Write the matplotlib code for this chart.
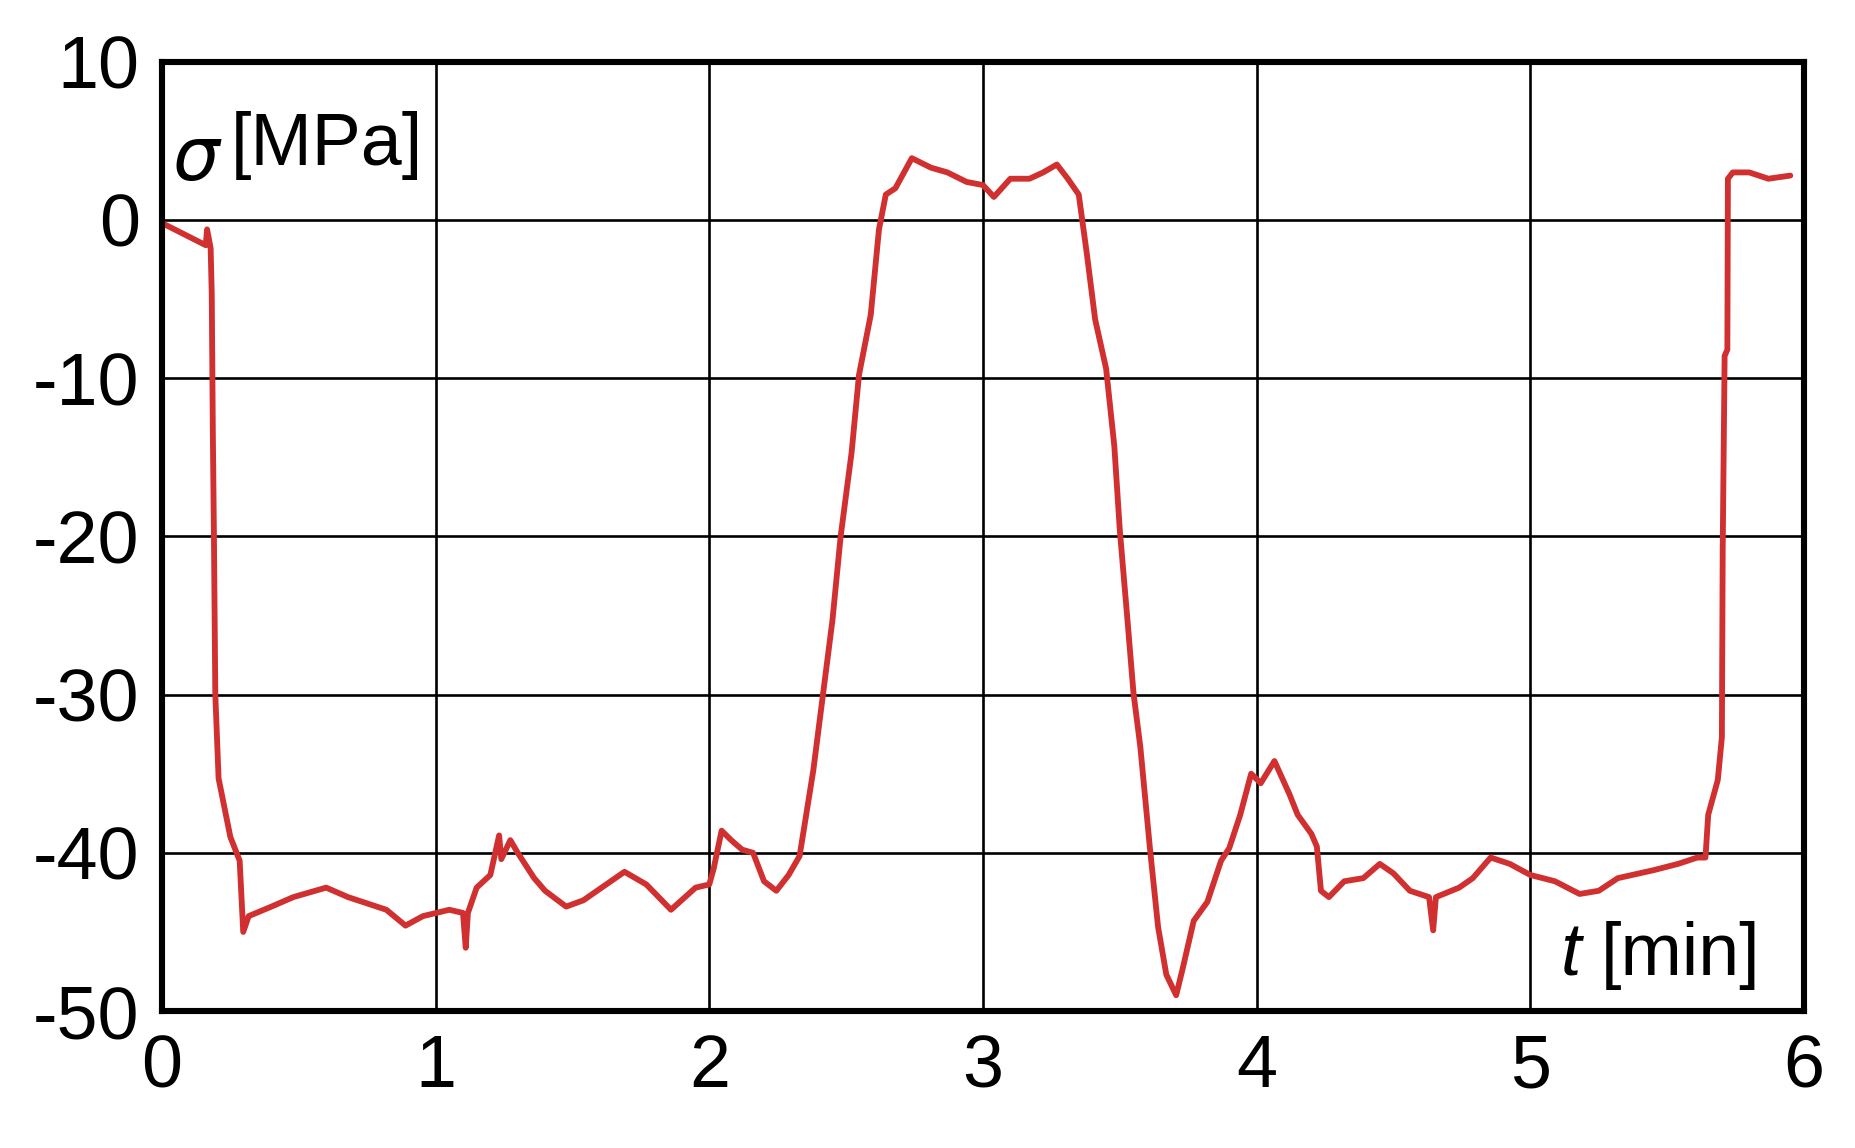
import matplotlib.pyplot as plt

# time [min] and stress [MPa]
t = [0.0, 0.16, 0.165, 0.178, 0.182, 0.186, 0.19, 0.195, 0.207, 0.25, 0.284, 0.297,
     0.317, 0.4, 0.48, 0.6, 0.68, 0.82, 0.89, 0.954, 1.05, 1.10, 1.11, 1.118,
     1.15, 1.2, 1.232, 1.24, 1.273, 1.3, 1.36, 1.40, 1.477, 1.54, 1.69, 1.77,
     1.86, 1.95, 2.0, 2.016, 2.045, 2.08, 2.12, 2.16, 2.2, 2.245, 2.29, 2.33,
     2.38, 2.416, 2.45, 2.48, 2.52, 2.547, 2.59, 2.62, 2.645, 2.68, 2.74, 2.81,
     2.87, 2.94, 3.0, 3.04, 3.1, 3.17, 3.22, 3.27, 3.31, 3.35, 3.38, 3.41,
     3.45, 3.48, 3.50, 3.53, 3.55, 3.575, 3.61, 3.64, 3.67, 3.706, 3.73, 3.77,
     3.82, 3.87, 3.90, 3.94, 3.98, 4.015, 4.065, 4.12, 4.15, 4.20, 4.22, 4.235,
     4.264, 4.32, 4.39, 4.45, 4.50, 4.56, 4.63, 4.645, 4.655, 4.74, 4.79, 4.855,
     4.925, 5.0, 5.09, 5.18, 5.25, 5.32, 5.45, 5.54, 5.61, 5.64, 5.65, 5.685,
     5.70, 5.703, 5.71, 5.72, 5.722, 5.74, 5.80, 5.87, 5.95]
sigma = [-0.2, -1.6, -0.6, -1.8, -4.7, -13.5, -20.0, -30.0, -35.3, -39.0, -40.5, -45.0,
         -44.0, -43.4, -42.8, -42.2, -42.8, -43.6, -44.6, -44.0, -43.6, -43.8, -46.0, -43.8,
         -42.2, -41.4, -38.9, -40.4, -39.2, -40.0, -41.6, -42.4, -43.4, -43.0, -41.2, -42.0,
         -43.6, -42.2, -42.0, -41.0, -38.6, -39.2, -39.8, -40.0, -41.8, -42.4, -41.4, -40.2,
         -34.8, -29.9, -25.3, -20.0, -14.7, -9.8, -6.0, -0.6, 1.6, 2.0, 3.9, 3.3,
         3.0, 2.4, 2.2, 1.45, 2.6, 2.6, 3.0, 3.5, 2.6, 1.6, -2.2, -6.3,
         -9.4, -14.3, -19.6, -25.7, -29.9, -33.3, -39.7, -44.7, -47.7, -49.0, -47.3, -44.3,
         -43.1, -40.5, -39.7, -37.6, -35.0, -35.6, -34.2, -36.3, -37.6, -38.8, -39.6, -42.4,
         -42.8, -41.8, -41.6, -40.7, -41.3, -42.4, -42.8, -44.9, -42.8, -42.2, -41.6, -40.3,
         -40.7, -41.4, -41.8, -42.6, -42.4, -41.6, -41.1, -40.7, -40.3, -40.3, -37.6, -35.4,
         -32.7, -20.8, -8.6, -8.2, 2.6, 3.0, 3.0, 2.6, 2.8]

xticks = [0, 1, 2, 3, 4, 5, 6]
yticks = [10, 0, -10, -20, -30, -40, -50]

plt.rcParams['font.family'] = ['Liberation Sans', 'DejaVu Sans']

fig = plt.figure(figsize=(18.55, 11.48), dpi=100)
ax = fig.add_axes([0.0873, 0.1193, 0.8852, 0.827])
ax.plot(t, sigma, color='#d03030', lw=4.2, zorder=3,
        solid_joinstyle='round', solid_capstyle='round')

ax.set_xlim(0, 6)
ax.set_ylim(-50, 10)
ax.set_xticks(xticks)
ax.set_yticks(yticks)
ax.set_yticklabels([str(v) for v in yticks])
ax.tick_params(length=0, labelsize=53, pad=16)
ax.grid(True, color='black', lw=1.9)
for s in ax.spines.values():
    s.set_linewidth(4.4)
    s.set_zorder(4)

ax.text(0.006, 0.935, r'$\sigma$', transform=ax.transAxes, fontsize=53,
        va='top', ha='left', family='DejaVu Serif')
ax.text(0.042, 0.948, '[MPa]', transform=ax.transAxes, fontsize=53,
        va='top', ha='left')
ax.text(0.852, 0.022, 't', transform=ax.transAxes, fontsize=53,
        va='bottom', ha='left', style='italic')
ax.text(0.876, 0.022, '[min]', transform=ax.transAxes, fontsize=53,
        va='bottom', ha='left')

fig.savefig('out.png', dpi=100)
